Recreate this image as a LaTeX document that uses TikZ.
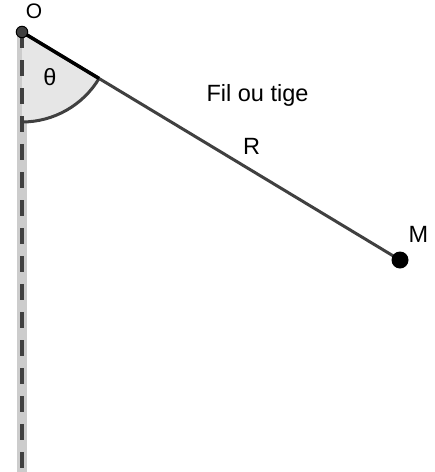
\documentclass[tikz,border=0pt]{standalone}
\usepackage{fontspec}
\setmainfont{Liberation Sans}
\usetikzlibrary{calc}
\definecolor{dk}{HTML}{404040}
\definecolor{band}{HTML}{CCCCCC}
\definecolor{sect}{HTML}{E6E6E6}
\tikzset{
  lbl/.style={inner sep=0pt, font=\fontsize{23.5}{27}\selectfont, text=black},
}
\begin{document}
\begin{tikzpicture}[x=1pt,y=-1pt]
\useasboundingbox (0,0) rectangle (435,472);
\coordinate (O) at (22,32);
\coordinate (M) at (400,260);
\coordinate (Bot) at (22,472);
\coordinate (B) at ($(O)!90pt!(M)$);
% vertical band
\draw[band, line width=10pt] (O) -- (Bot);
% sector
\fill[sect] (O) -- (B) arc[start angle=31.1, end angle=90, radius=90] -- cycle;
% dashed axis
\draw[dk, line width=4pt, dash pattern=on 16pt off 12pt] (O) -- (Bot);
% arc
\draw[dk, line width=3pt] (B) arc[start angle=31.1, end angle=90, radius=90];
% string
\draw[dk, line width=3pt] (O) -- (M);
\draw[black, line width=3.5pt] (O) -- (B);
% points
\node[circle, fill=dk, draw=black, line width=1pt, minimum size=11.5pt, inner sep=0pt] (Op) at (O) {};
\node[circle, fill=black, minimum size=17pt, inner sep=0pt] (Mp) at (M) {};
% labels
\node[lbl, font=\fontsize{21}{25}\selectfont, anchor=base] (lO) at (34,18.5) {O};
\node[lbl] (lt) at (50,77) {θ};
\node[lbl, anchor=base] (lfil) at (257.5,101) {Fil ou tige};
\node[lbl, anchor=base] (lR) at (251.5,154) {R};
\node[lbl, anchor=base] (lM) at (418.5,242) {M};
\end{tikzpicture}
\end{document}
